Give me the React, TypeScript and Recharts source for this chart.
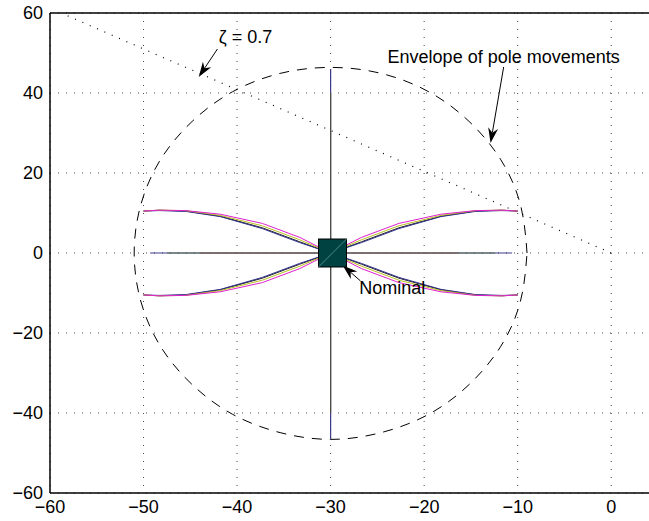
import React from 'react';
import {
  ComposedChart, Line, Scatter, XAxis, YAxis, CartesianGrid, ReferenceLine, ReferenceDot,
} from 'recharts';

// axis ticks
const xTicks = [-60, -50, -40, -30, -20, -10, 0];
const yTicks = [-60, -40, -20, 0, 20, 40, 60];

// envelope of pole movements
const envelope = [
  { x: -9.0, y: 0 }, { x: -9.7, y: 12.0 }, { x: -11.8, y: 23.3 }, { x: -15.2, y: 32.9 },
  { x: -19.5, y: 40.3 }, { x: -24.6, y: 44.9 }, { x: -30.0, y: 46.4 }, { x: -35.4, y: 44.9 },
  { x: -40.5, y: 40.3 }, { x: -44.8, y: 32.9 }, { x: -48.2, y: 23.3 }, { x: -50.3, y: 12.0 },
  { x: -51.0, y: 0 }, { x: -50.3, y: -12.0 }, { x: -48.2, y: -23.3 }, { x: -44.8, y: -32.9 },
  { x: -40.5, y: -40.3 }, { x: -35.4, y: -44.9 }, { x: -30.0, y: -46.6 }, { x: -24.6, y: -44.9 },
  { x: -19.5, y: -40.3 }, { x: -15.2, y: -32.9 }, { x: -11.8, y: -23.3 }, { x: -9.7, y: -12.0 },
  { x: -9.0, y: 0 },
];

// damping line zeta = 0.7
const zetaLine = [{ x: 0, y: 0 }, { x: -58.8, y: 60 }];

// complex pole branches: m = magenta, yl = yellow, nv = navy, bk = black
const branchUL = [
  { x: -30.0, m: 0, yl: 0, nv: 0, bk: 0 },
  { x: -33.3, m: 3.9, yl: 3.3, nv: 2.6, bk: 2.8 },
  { x: -37.3, m: 7.4, yl: 6.8, nv: 6.1, bk: 6.3 },
  { x: -41.8, m: 9.7, yl: 9.4, nv: 9.1, bk: 9.2 },
  { x: -45.5, m: 10.6, yl: 10.6, nv: 10.4, bk: 10.5 },
  { x: -48.3, m: 10.7, yl: 10.7, nv: 10.6, bk: 10.7 },
  { x: -50.0, m: 10.5, yl: 10.5, nv: 10.5, bk: 10.5 },
];
const branchUR = [
  { x: -30.0, m: 0, yl: 0, nv: 0, bk: 0 },
  { x: -26.7, m: 3.9, yl: 3.3, nv: 2.6, bk: 2.8 },
  { x: -22.7, m: 7.4, yl: 6.8, nv: 6.1, bk: 6.3 },
  { x: -18.2, m: 9.7, yl: 9.4, nv: 9.1, bk: 9.2 },
  { x: -14.5, m: 10.6, yl: 10.6, nv: 10.4, bk: 10.5 },
  { x: -11.7, m: 10.7, yl: 10.7, nv: 10.6, bk: 10.7 },
  { x: -10.0, m: 10.5, yl: 10.5, nv: 10.5, bk: 10.5 },
];
const branchLL = [
  { x: -30.0, m: 0, yl: 0, nv: 0, bk: 0 },
  { x: -33.3, m: -3.9, yl: -3.3, nv: -2.6, bk: -2.8 },
  { x: -37.3, m: -7.4, yl: -6.8, nv: -6.1, bk: -6.3 },
  { x: -41.8, m: -9.7, yl: -9.4, nv: -9.1, bk: -9.2 },
  { x: -45.5, m: -10.6, yl: -10.6, nv: -10.4, bk: -10.5 },
  { x: -48.3, m: -10.7, yl: -10.7, nv: -10.6, bk: -10.7 },
  { x: -50.0, m: -10.5, yl: -10.5, nv: -10.5, bk: -10.5 },
];
const branchLR = [
  { x: -30.0, m: 0, yl: 0, nv: 0, bk: 0 },
  { x: -26.7, m: -3.9, yl: -3.3, nv: -2.6, bk: -2.8 },
  { x: -22.7, m: -7.4, yl: -6.8, nv: -6.1, bk: -6.3 },
  { x: -18.2, m: -9.7, yl: -9.4, nv: -9.1, bk: -9.2 },
  { x: -14.5, m: -10.6, yl: -10.6, nv: -10.4, bk: -10.5 },
  { x: -11.7, m: -10.7, yl: -10.7, nv: -10.6, bk: -10.7 },
  { x: -10.0, m: -10.5, yl: -10.5, nv: -10.5, bk: -10.5 },
];

// real-axis poles
const realNavy = [{ x: -49.3, y: 0 }, { x: -10.6, y: 0 }];
const realGreen = [{ x: -47.5, y: 0 }, { x: -12.4, y: 0 }];
const realBrown = [{ x: -44.0, y: 0 }, { x: -16.4, y: 0 }];

// imaginary-direction pole movement
const vertNavy = [{ x: -30.0, y: 46.0 }, { x: -30.0, y: -46.5 }];
const vertOlive = [{ x: -30.0, y: 40.0 }, { x: -30.0, y: -40.0 }];

const nominal = [{ x: -29.8, y: 0 }];

const FONT = '"Liberation Sans", Arial, Helvetica, sans-serif';
const minus = (v: number) => String(v).replace('-', '\u2212');

const branches = [branchUL, branchUR, branchLL, branchLR];
// drawn in this order, so the coloured traces sit on top of the dark ones
const branchColors: Array<[string, string]> = [
  ['bk', '#202020'],
  ['nv', '#303090'],
  ['yl', '#b8c020'],
  ['m', '#e020d0'],
];

const Arrow = (props: any) => {
  const { x1, y1, x2, y2 } = props;
  const a = Math.atan2(y2 - y1, x2 - x1);
  const len = 15;
  const w = 5;
  const bx = x2 - len * Math.cos(a);
  const by = y2 - len * Math.sin(a);
  const nx = -Math.sin(a);
  const ny = Math.cos(a);
  const mx = x2 - len * 0.7 * Math.cos(a);
  const my = y2 - len * 0.7 * Math.sin(a);
  return (
    <g>
      <line x1={x1} y1={y1} x2={mx} y2={my} stroke="#000" strokeWidth={1} />
      <polygon
        points={`${x2},${y2} ${bx + nx * w},${by + ny * w} ${mx},${my} ${bx - nx * w},${by - ny * w}`}
        fill="#000"
      />
    </g>
  );
};

const NominalBox = (props: any) => {
  const { cx, cy } = props;
  const s = 14;
  return (
    <g>
      <rect x={cx - s} y={cy - s} width={2 * s} height={2 * s} fill="#004242" stroke="#000" strokeWidth={1} />
      <line x1={cx - s} y1={cy + s} x2={cx + s} y2={cy - s} stroke="#5f9a9a" strokeWidth={0.8} />
    </g>
  );
};

const textStyle = { fill: '#000', fontSize: 18, fontFamily: FONT };

export default function App() {
  return (
    <div style={{ position: 'absolute', left: 0, top: 0, width: 649, height: 521, overflow: 'hidden', background: '#fff' }}>
      <ComposedChart width={658} height={521} margin={{ top: 13, right: 0, left: 0, bottom: 0 }}>
        <CartesianGrid stroke="#444" strokeDasharray="1 7" />
        <XAxis
          type="number"
          dataKey="x"
          domain={[-60, 5]}
          ticks={xTicks}
          allowDataOverflow
          height={28}
          tickLine={false}
          tickSize={0}
          tickMargin={7}
          tickFormatter={minus}
          axisLine={{ stroke: '#000', strokeWidth: 1.5 }}
          tick={textStyle}
        />
        <YAxis
          type="number"
          dataKey="y"
          domain={[-60, 60]}
          ticks={yTicks}
          allowDataOverflow
          width={50}
          tickLine={false}
          tickSize={0}
          tickMargin={7}
          tickFormatter={minus}
          axisLine={{ stroke: '#000', strokeWidth: 1.5 }}
          tick={textStyle}
        />
        <ReferenceLine y={60} stroke="#000" strokeWidth={1.5} />

        <Line data={zetaLine} dataKey="y" stroke="#000" strokeDasharray="1 7" strokeWidth={1.2} dot={false} activeDot={false} isAnimationActive={false} />
        <Line data={envelope} dataKey="y" type="natural" stroke="#000" strokeDasharray="10 8" strokeWidth={1} dot={false} activeDot={false} isAnimationActive={false} />

        <Line data={realNavy} dataKey="y" stroke="#3a3a8a" strokeWidth={1.2} dot={false} activeDot={false} isAnimationActive={false} />
        <Line data={realGreen} dataKey="y" stroke="#5e7050" strokeWidth={1.2} dot={false} activeDot={false} isAnimationActive={false} />
        <Line data={realBrown} dataKey="y" stroke="#7e5e58" strokeWidth={1.2} dot={false} activeDot={false} isAnimationActive={false} />
        <Line data={vertNavy} dataKey="y" stroke="#3a3a8a" strokeWidth={1.2} dot={false} activeDot={false} isAnimationActive={false} />
        <Line data={vertOlive} dataKey="y" stroke="#505040" strokeWidth={1.2} dot={false} activeDot={false} isAnimationActive={false} />

        {branches.map((b, i) =>
          branchColors.map(([k, c]) => (
            <Line
              key={`b${i}${k}`}
              data={b}
              dataKey={k}
              stroke={c}
              strokeWidth={1}
              dot={false}
              activeDot={false}
              isAnimationActive={false}
            />
          )),
        )}

        <Scatter data={nominal} dataKey="y" shape={NominalBox} isAnimationActive={false} />

        <ReferenceLine segment={[{ x: -42.1, y: 51 }, { x: -44.1, y: 44 }]} shape={Arrow} />
        <ReferenceLine segment={[{ x: -11.5, y: 46.5 }, { x: -12.9, y: 27.5 }]} shape={Arrow} />
        <ReferenceLine segment={[{ x: -26.8, y: -7.0 }, { x: -28.7, y: -3.1 }]} shape={Arrow} />

        <ReferenceDot x={-39.1} y={54} r={0} fill="none" stroke="none" label={{ value: 'ζ = 0.7', position: 'center', ...textStyle }} />
        <ReferenceDot x={-11.5} y={49} r={0} fill="none" stroke="none" label={{ value: 'Envelope of pole movements', position: 'center', ...textStyle }} />
        <ReferenceDot x={-23.4} y={-8.6} r={0} fill="none" stroke="none" label={{ value: 'Nominal', position: 'center', ...textStyle }} />
      </ComposedChart>
    </div>
  );
}
